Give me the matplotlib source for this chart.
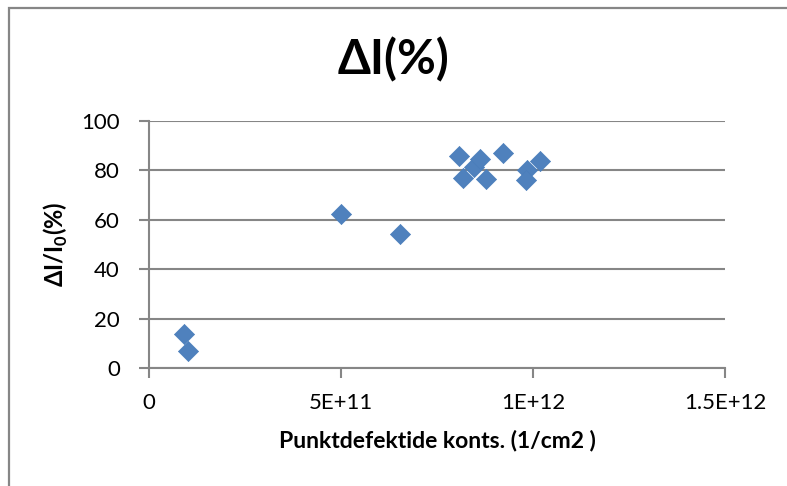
import matplotlib
matplotlib.use("Agg")
import matplotlib.pyplot as plt
from matplotlib.patches import Rectangle
from matplotlib.ticker import FixedLocator, FixedFormatter

plt.rcParams['font.family'] = ['Lato', 'DejaVu Sans']
plt.rcParams['mathtext.fontset'] = 'custom'
plt.rcParams['mathtext.rm'] = 'Lato'
plt.rcParams['mathtext.bf'] = 'Lato:bold'

# point defect concentration (1/cm2) and relative current change (%)
konts = [0.917e11, 1.02e11, 5.01e11, 6.54e11, 8.06e11, 8.19e11, 8.47e11,
         8.63e11, 8.77e11, 9.21e11, 9.85e11, 9.81e11, 10.17e11]
delta_i = [13.6, 7.0, 62.4, 54.3, 85.6, 76.9, 81.2, 84.6, 76.6, 87.0,
           80.0, 75.9, 83.7]

x_ticks = [0, 5e11, 1e12, 1.5e12]
x_labels = ["0", "5E+11", "1E+12", "1.5E+12"]
y_ticks = [0, 20, 40, 60, 80, 100]

grey = "#868686"

fig = plt.figure(figsize=(7.87, 4.86), dpi=100)
# outer chart frame
fig.patches.append(Rectangle((8.5 / 787, -0.1), 1.2, 1.1 - 8.5 / 486,
                             transform=fig.transFigure, fill=False,
                             edgecolor=grey, linewidth=1.6))

ax = fig.add_axes([149 / 787, 118 / 486, 576 / 787, 247.3 / 486])
ax.scatter(konts, delta_i, marker="D", s=105, color="#4F81BD",
           edgecolors="#4A7EBB", linewidths=0.5, zorder=3, clip_on=False)

ax.set_xlim(0, 1.5e12)
ax.set_ylim(0, 100)
ax.xaxis.set_major_locator(FixedLocator(x_ticks))
ax.xaxis.set_major_formatter(FixedFormatter(x_labels))
ax.set_yticks(y_ticks)

ax.grid(axis="y", color=grey, linewidth=1.5)
ax.set_axisbelow(True)
for side in ["top", "right"]:
    ax.spines[side].set_visible(False)
for side in ["left", "bottom"]:
    ax.spines[side].set_color(grey)
    ax.spines[side].set_linewidth(1.5)
ax.tick_params(axis="both", colors=grey, labelcolor="black", labelsize=16,
               width=1.5, length=7, direction="out")
ax.tick_params(axis="x", pad=11)
ax.tick_params(axis="y", pad=14)

fig.text(394 / 787, 1 - 60 / 486, "ΔI(%)", fontsize=34, fontweight="bold",
         ha="center", va="center")
ax.set_xlabel("Punktdefektide konts. (1/cm2 )", fontsize=16.5,
              fontweight="bold", labelpad=12)
ax.set_ylabel(r"ΔI/I$_\mathbf{0}$(%)", fontsize=17, fontweight="bold",
              labelpad=8)

fig.savefig("out.png", dpi=100)
